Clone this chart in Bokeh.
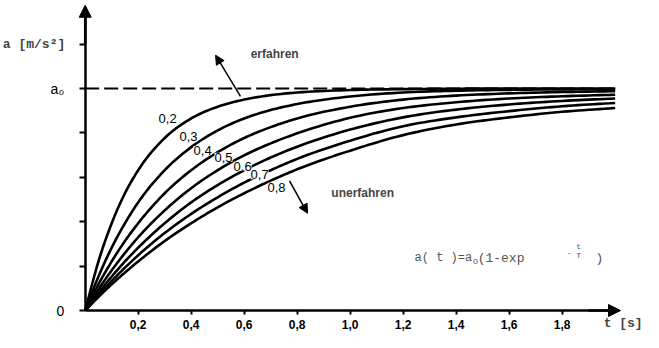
import numpy as np
from bokeh.plotting import figure
from bokeh.models import (Range1d, FixedTicker, CustomJSTickFormatter, Arrow,
                          NormalHead, Label)
from bokeh.embed import file_html
from bokeh.resources import INLINE

# ---------------- data (a / a0) ----------------
t_s = [0, 0.05, 0.1, 0.15, 0.2, 0.3, 0.4, 0.5, 0.6, 0.7, 0.8, 1.0, 1.2, 1.4, 1.6, 1.8, 2.0]
T_values = [0.2, 0.3, 0.4, 0.5, 0.6, 0.7, 0.8]
a_T02 = [0, .221, .393, .528, .632, .777, .865, .918, .950, .970, .982, .993, .997, .999, 1.0, 1.0, 1.0]
a_T03 = [0, .153, .283, .393, .487, .632, .736, .811, .865, .903, .930, .964, .982, .990, .994, .996, .997]
a_T04 = [0, .118, .221, .313, .393, .528, .632, .713, .777, .826, .865, .918, .950, .968, .978, .984, .988]
a_T05 = [0, .095, .181, .259, .330, .451, .551, .632, .699, .753, .798, .868, .912, .938, .955, .965, .972]
a_T06 = [0, .080, .153, .221, .283, .393, .487, .565, .632, .689, .738, .815, .870, .905, .928, .944, .955]
a_T07 = [0, .069, .133, .193, .249, .349, .435, .510, .576, .632, .683, .765, .830, .870, .898, .920, .935]
a_T08 = [0, .061, .118, .171, .221, .313, .393, .465, .528, .585, .636, .720, .790, .838, .870, .895, .912]
curves = [a_T02, a_T03, a_T04, a_T05, a_T06, a_T07, a_T08]
A0 = 1.0
x_ticks = [0.2, 0.4, 0.6, 0.8, 1.0, 1.2, 1.4, 1.6, 1.8]
y_ticks = [0, 0.2, 0.4, 0.6, 0.8, 1.0, 1.2]

# label positions (layout)
lab_x = [0.311, 0.390, 0.443, 0.522, 0.594, 0.658, 0.722]
lab_y = [0.863, 0.783, 0.721, 0.690, 0.650, 0.611, 0.553]


def smooth(x, y, n=10):
    x = np.asarray(x, float)
    y = np.asarray(y, float)
    m = np.gradient(y, x)
    xs, ys = [], []
    for i in range(len(x) - 1):
        h = x[i + 1] - x[i]
        s = np.linspace(0, 1, n, endpoint=False)
        h00 = 2 * s**3 - 3 * s**2 + 1
        h10 = s**3 - 2 * s**2 + s
        h01 = -2 * s**3 + 3 * s**2
        h11 = s**3 - s**2
        xs.extend(x[i] + s * h)
        ys.extend(h00 * y[i] + h10 * h * m[i] + h01 * y[i + 1] + h11 * h * m[i + 1])
    xs.append(x[-1])
    ys.append(y[-1])
    return xs, ys


W, H = 643, 332
OX, OY = 84.7, 310.0      # origin in canvas pixels (from left, from top)
XS, YS = 265.0, 222.0     # pixels per unit

p = figure(width=W, height=H, output_backend="svg", toolbar_location=None,
           x_range=Range1d(-OX / XS, (W - OX) / XS),
           y_range=Range1d(-(H - OY) / YS, OY / YS),
           min_border_left=0, min_border_right=0, min_border_top=0,
           min_border_bottom=0)
p.grid.visible = False
p.outline_line_color = None
p.background_fill_color = "white"
p.border_fill_color = "white"

# axes
xa = p.xaxis[0]
xa.fixed_location = 0
xa.ticker = FixedTicker(ticks=x_ticks)
xa.formatter = CustomJSTickFormatter(code="return tick.toFixed(1).replace('.', ',');")
xa.bounds = (0, 1.99)
xa.axis_line_width = 2.5
xa.major_tick_line_width = 2
xa.major_tick_in = 0
xa.major_tick_out = 4
xa.minor_tick_line_color = None
xa.major_label_standoff = 5
xa.major_label_text_font = "Liberation Sans"
xa.major_label_text_font_style = "bold"
xa.major_label_text_font_size = "12px"
xa.major_label_text_color = "black"

ya = p.yaxis[0]
ya.fixed_location = 0
ya.ticker = FixedTicker(ticks=y_ticks)
ya.formatter = CustomJSTickFormatter(
    code="if (Math.abs(tick) < 1e-9) return '0'; if (Math.abs(tick - 1) < 1e-9) return 'a\u2080'; return '';")
ya.bounds = (0, 1.33)
ya.axis_line_width = 2.5
ya.major_tick_line_width = 2
ya.major_tick_in = 0
ya.major_tick_out = 6
ya.minor_tick_line_color = None
ya.major_label_standoff = 15
ya.major_label_text_font = "Liberation Sans"
ya.major_label_text_font_size = "14px"
ya.major_label_text_color = "black"

# axis arrows
p.add_layout(Arrow(x_start=1.9, y_start=0, x_end=2.02, y_end=0, line_width=2.5,
                   end=NormalHead(size=12, fill_color="black", line_color="black")))
p.add_layout(Arrow(x_start=0, y_start=1.2, x_end=0, y_end=1.375, line_width=2.5,
                   end=NormalHead(size=12, fill_color="black", line_color="black")))

# a0 dashed line
p.line([t_s[0], t_s[-1]], [A0, A0], line_color="black", line_width=2, line_dash="14 5")

# curves
for vals in curves:
    xs, ys = smooth(t_s, vals)
    p.line(xs, ys, line_color="black", line_width=2.6)

# curve labels
for T, lx, ly in zip(T_values, lab_x, lab_y):
    p.add_layout(Label(x=lx, y=ly, text=("%.1f" % T).replace(".", ","),
                       text_font="Liberation Sans", text_font_size="13px",
                       text_align="center", text_baseline="middle",
                       background_fill_color="white", text_color="black"))

# erfahren / unerfahren
p.add_layout(Arrow(x_start=0.586, y_start=0.965, x_end=0.492, y_end=1.150, line_width=1.5,
                   end=NormalHead(size=9, fill_color="black", line_color="black")))
p.add_layout(Arrow(x_start=0.771, y_start=0.584, x_end=0.839, y_end=0.438, line_width=1.5,
                   end=NormalHead(size=9, fill_color="black", line_color="black")))
p.add_layout(Label(x=0.715, y=1.155, text="erfahren", text_font="Liberation Sans",
                   text_font_style="bold", text_font_size="12px", text_align="center",
                   text_baseline="middle"))
p.add_layout(Label(x=1.047, y=0.531, text="unerfahren", text_font="Liberation Sans",
                   text_font_style="bold", text_font_size="12px", text_align="center",
                   text_baseline="middle"))

# axis titles
p.add_layout(Label(x=-0.193, y=1.2, text="a [m/s\u00b2]", text_font="Liberation Mono",
                   text_font_style="bold", text_font_size="13px", text_align="center",
                   text_baseline="middle"))
p.add_layout(Label(x=2.03, y=-0.058, text="t [s]", text_font="Liberation Mono",
                   text_font_style="bold", text_font_size="13px", text_align="center",
                   text_baseline="middle"))

# formula
fc = "#555555"
p.add_layout(Label(x=1.243, y=0.2345, text="a( t )=a", text_font="Liberation Mono",
                   text_font_size="12px", text_color=fc, text_baseline="alphabetic"))
p.add_layout(Label(x=1.462, y=0.217, text="o", text_font="Liberation Mono",
                   text_font_size="9px", text_color=fc, text_baseline="alphabetic"))
p.add_layout(Label(x=1.481, y=0.2345, text="(1-exp", text_font="Liberation Mono",
                   text_font_size="13px", text_color=fc, text_baseline="alphabetic"))
p.add_layout(Label(x=1.817, y=0.262, text="-", text_font="Liberation Mono",
                   text_font_size="8px", text_color=fc, text_baseline="alphabetic"))
p.add_layout(Label(x=1.862, y=0.29, text="t", text_font="Liberation Mono",
                   text_font_size="8px", text_color=fc, text_baseline="alphabetic",
                   text_align="center"))
p.add_layout(Label(x=1.862, y=0.25, text="T", text_font="Liberation Mono",
                   text_font_size="8px", text_color=fc, text_baseline="alphabetic",
                   text_align="center"))
p.add_layout(Label(x=1.926, y=0.2345, text=")", text_font="Liberation Mono",
                   text_font_size="13px", text_color=fc, text_baseline="alphabetic"))

open("out.html", "w").write(file_html(p, INLINE))
